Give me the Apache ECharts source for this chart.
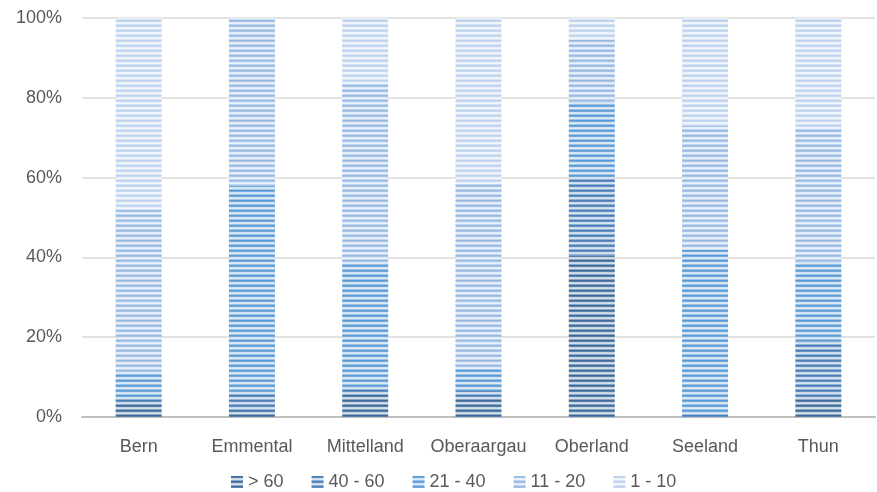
<!DOCTYPE html>
<html>
<head>
<meta charset="utf-8">
<script src="https://cdn.jsdelivr.net/npm/echarts@6/dist/echarts.min.js"></script>
<style>
  html, body { margin: 0; padding: 0; background: #fff; }
  #chart { width: 877px; height: 492px; }
</style>
</head>
<body>
<div id="chart"></div>
<script>
// Regions of the canton of Bern
const categories = ['Bern', 'Emmental', 'Mittelland', 'Oberaargau', 'Oberland', 'Seeland', 'Thun'];

// Share per size class, in percent (each column sums to 100)
const seriesNames = ['> 60', '40 - 60', '21 - 40', '11 - 20', '1 - 10'];
const over60   = [3.5, 1.5, 5.5, 4.5, 40.5, 0, 5];
const from40   = [1, 4.5, 2, 2, 19.5, 0.5, 14];
const from21   = [6.5, 52, 31.3, 5.5, 19, 41.5, 20];
const from11   = [41, 42, 45, 46.5, 15.5, 31, 33.5];
const from1    = [48, 0, 16.2, 41.5, 5.5, 27, 27.5];
const yTicks   = [0, 20, 40, 60, 80, 100];

const baseColors = ['#3D6B9B', '#4A7EB8', '#5B9BD5', '#97BAE2', '#BDD2ED'];
const seriesData = [over60, from40, from21, from11, from1];

function mix(hex, t) {
  const n = parseInt(hex.slice(1), 16);
  const r = (n >> 16) & 255, g = (n >> 8) & 255, b = n & 255;
  const f = v => Math.round(v + (255 - v) * t);
  return 'rgb(' + f(r) + ',' + f(g) + ',' + f(b) + ')';
}

// Horizontal stripe fill, 5px period
function stripe(hex) {
  const c = document.createElement('canvas');
  c.width = 4; c.height = 5;
  const ctx = c.getContext('2d');
  const rows = [0, 0.15, 0.7, 0.8, 0.4];
  rows.forEach((t, i) => {
    ctx.fillStyle = mix(hex, t);
    ctx.fillRect(0, i, 4, 1);
  });
  return { image: c, repeat: 'repeat' };
}

const chart = echarts.init(document.getElementById('chart'), null, { renderer: 'canvas' });

const series = seriesNames.map((name, i) => ({
  name: name,
  type: 'bar',
  stack: 'total',
  barWidth: 46,
  data: seriesData[i],
  itemStyle: { color: stripe(baseColors[i]) },
  emphasis: { disabled: true }
}));

chart.setOption({
  animation: false,
  textStyle: { fontFamily: 'Liberation Sans, Arial, sans-serif' },
  grid: { left: 82, right: 2, top: 18, bottom: 75, containLabel: false },
  legend: {
    top: 468,
    left: 226,
    itemWidth: 12,
    itemHeight: 12,
    itemGap: 28,
    icon: 'rect',
    data: seriesNames,
    textStyle: { color: '#595959', fontSize: 18, padding: [0, 0, 0, 0] }
  },
  xAxis: {
    type: 'category',
    data: categories,
    axisLine: { lineStyle: { color: '#BFBFBF', width: 2 } },
    axisTick: { show: false },
    axisLabel: { color: '#595959', fontSize: 18, margin: 21, interval: 0 }
  },
  yAxis: {
    type: 'value',
    min: yTicks[0],
    max: yTicks[yTicks.length - 1],
    interval: 20,
    axisLine: { show: false },
    axisTick: { show: false },
    splitLine: { lineStyle: { color: '#D9D9D9', width: 1.5 } },
    axisLabel: { color: '#595959', fontSize: 18, margin: 20, formatter: '{value}%' }
  },
  series: series
});
</script>
</body>
</html>
